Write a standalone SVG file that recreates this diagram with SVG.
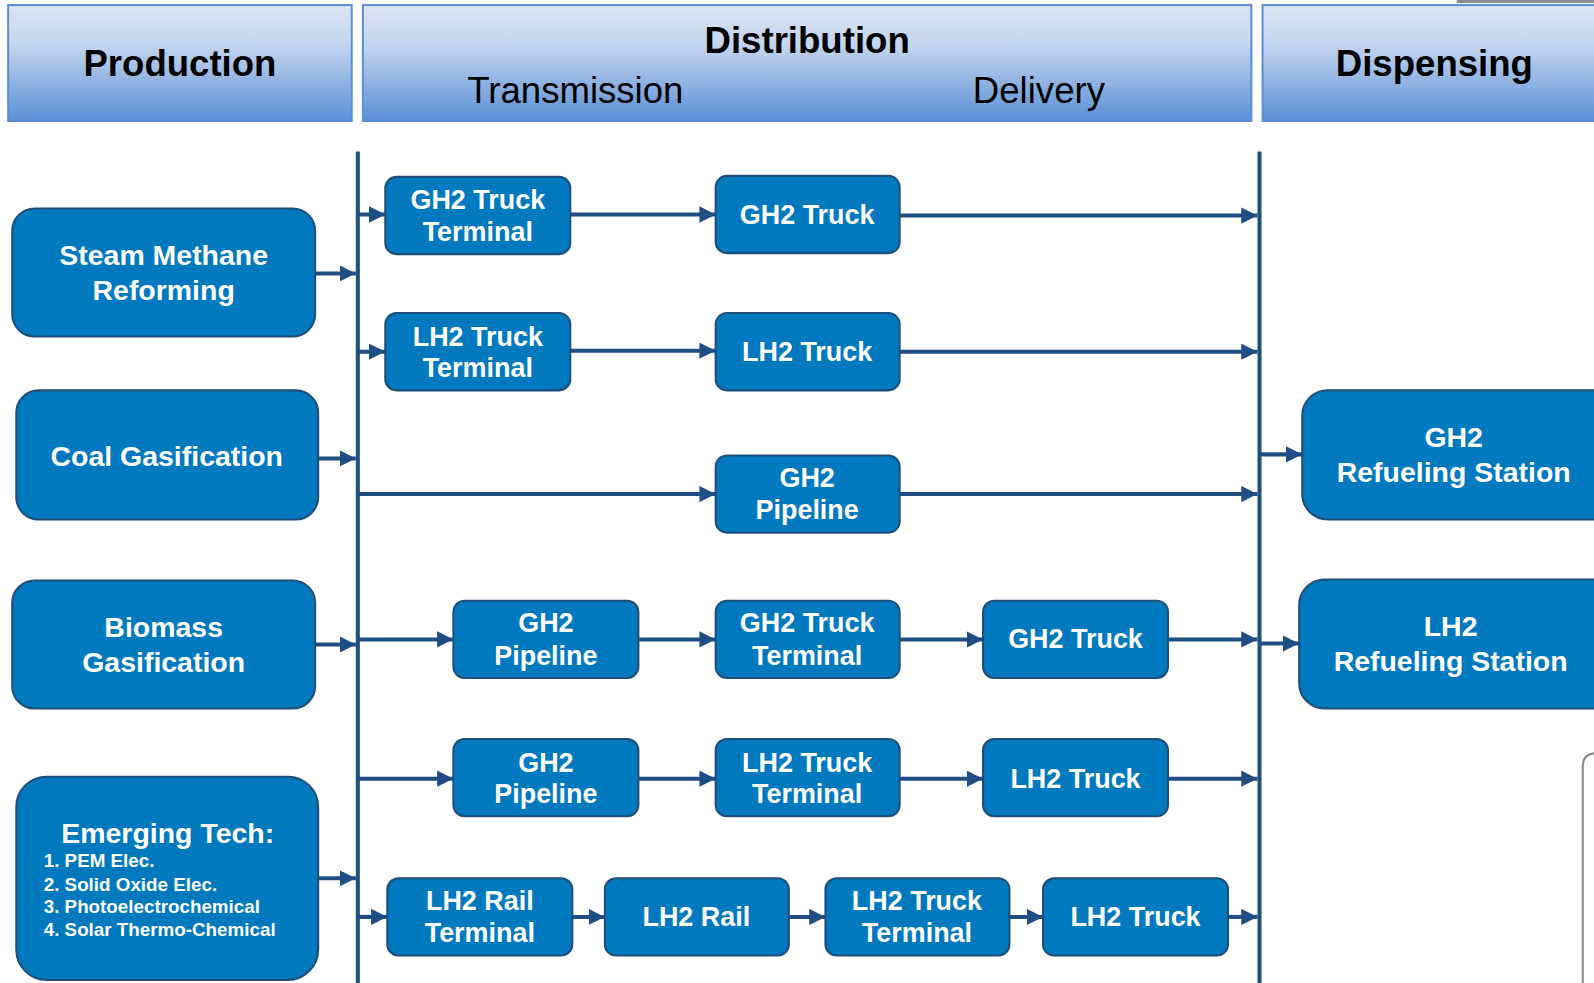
<svg xmlns="http://www.w3.org/2000/svg" width="1594" height="983" viewBox="0 0 1594 983">
<defs>
<linearGradient id="hg" x1="0" y1="0" x2="0" y2="1">
<stop offset="0" stop-color="#dce6f2"/>
<stop offset="0.35" stop-color="#c3d4ee"/>
<stop offset="1" stop-color="#5a8fd5"/>
</linearGradient>
<marker id="ah" markerWidth="4" markerHeight="4" refX="4" refY="2" orient="auto" markerUnits="strokeWidth">
<path d="M0,0 L4,2 L0,4 Z" fill="#1f4e85"/>
</marker>
<style>
.hdr{fill:url(#hg);stroke:#5b8fd6;stroke-width:2}
.ht{font-family:"Liberation Sans",Arial,sans-serif;font-size:36px;fill:#000;text-anchor:middle}
.b{font-weight:bold}
.n{fill:#0079be;stroke:#1f4e79;stroke-width:2}
.t{font-family:"Liberation Sans",Arial,sans-serif;font-weight:bold;fill:#fff;text-anchor:middle}
.s26{font-size:26.5px}
.s28{font-size:28px}
.s27{font-size:28px}
.li{font-size:18.5px;text-anchor:start}
.bus{stroke:#1f4e85;stroke-width:4;fill:none}
.c{stroke:#1f4e85;stroke-width:4;fill:none;marker-end:url(#ah)}
</style>
</defs>
<rect width="1594" height="983" fill="#fff"/>
<g transform="scale(1.01656)">
<rect x="1433" y="0" width="161" height="3" fill="#8c8c8c"/>
<g id="headers">
<g id="h-production"><rect class="hdr" x="8" y="5" width="338" height="114"/><text class="ht b" x="177" y="75">Production</text></g>
<g id="h-distribution"><rect class="hdr" x="357" y="5" width="874" height="114"/><text class="ht b" x="794" y="52">Distribution</text><text class="ht" x="566" y="101">Transmission</text><text class="ht" x="1022" y="101">Delivery</text></g>
<g id="h-dispensing"><rect class="hdr" x="1242" y="5" width="370" height="114"/><text class="ht b" x="1411" y="75">Dispensing</text></g>
</g>
<path d="M1600,741 L1570,741 Q1557,741 1557,754 L1557,990" fill="none" stroke="#8a8a8a" stroke-width="2"/>
<g id="connectors">
<line class="bus" x1="352" y1="149" x2="352" y2="983"/>
<line class="bus" x1="1239" y1="149" x2="1239" y2="983"/>
<line class="c" x1="310" y1="269" x2="350" y2="269"/>
<line class="c" x1="313" y1="451" x2="350" y2="451"/>
<line class="c" x1="310" y1="634" x2="350" y2="634"/>
<line class="c" x1="313" y1="864" x2="350" y2="864"/>
<line class="c" x1="352" y1="211" x2="379" y2="211"/>
<line class="c" x1="561" y1="211" x2="704" y2="211"/>
<line class="c" x1="885" y1="212" x2="1237" y2="212"/>
<line class="c" x1="352" y1="346" x2="379" y2="346"/>
<line class="c" x1="561" y1="345" x2="704" y2="345"/>
<line class="c" x1="885" y1="346" x2="1237" y2="346"/>
<line class="c" x1="352" y1="486" x2="704" y2="486"/>
<line class="c" x1="885" y1="486" x2="1237" y2="486"/>
<line class="c" x1="352" y1="629" x2="446" y2="629"/>
<line class="c" x1="628" y1="629" x2="704" y2="629"/>
<line class="c" x1="885" y1="629" x2="967" y2="629"/>
<line class="c" x1="1149" y1="629" x2="1237" y2="629"/>
<line class="c" x1="352" y1="766" x2="446" y2="766"/>
<line class="c" x1="628" y1="766" x2="704" y2="766"/>
<line class="c" x1="885" y1="766" x2="967" y2="766"/>
<line class="c" x1="1149" y1="766" x2="1237" y2="766"/>
<line class="c" x1="352" y1="902" x2="381" y2="902"/>
<line class="c" x1="563" y1="902" x2="595" y2="902"/>
<line class="c" x1="776" y1="902" x2="812" y2="902"/>
<line class="c" x1="993" y1="902" x2="1026" y2="902"/>
<line class="c" x1="1208" y1="902" x2="1237" y2="902"/>
<line class="c" x1="1239" y1="447" x2="1281" y2="447"/>
<line class="c" x1="1239" y1="633" x2="1278" y2="633"/>
</g>
<g id="smr"><rect class="n" x="12" y="205" width="298" height="126" rx="22"/><text class="t s28" x="161" y="261">Steam Methane</text><text class="t s28" x="161" y="295">Reforming</text></g>
<g id="coal"><rect class="n" x="16" y="384" width="297" height="127" rx="22"/><text class="t s28" x="164" y="458">Coal Gasification</text></g>
<g id="biomass"><rect class="n" x="12" y="571" width="298" height="126" rx="22"/><text class="t s28" x="161" y="627">Biomass</text><text class="t s28" x="161" y="661">Gasification</text></g>
<g id="emerging"><rect class="n" x="16" y="764" width="297" height="200" rx="30"/><text class="t s28" x="165" y="829">Emerging Tech:</text>
<text class="t li" x="43" y="853">1. PEM Elec.</text><text class="t li" x="43" y="876">2. Solid Oxide Elec.</text><text class="t li" x="43" y="898">3. Photoelectrochemical</text><text class="t li" x="43" y="921">4. Solar Thermo-Chemical</text></g>
<g id="gh2tt1"><rect class="n" x="379" y="174" width="182" height="76" rx="11"/><text class="t s26" x="470" y="206">GH2 Truck</text><text class="t s26" x="470" y="237">Terminal</text></g>
<g id="gh2t1"><rect class="n" x="704" y="173" width="181" height="76" rx="11"/><text class="t s26" x="794" y="220">GH2 Truck</text></g>
<g id="lh2tt1"><rect class="n" x="379" y="308" width="182" height="76" rx="11"/><text class="t s26" x="470" y="340">LH2 Truck</text><text class="t s26" x="470" y="371">Terminal</text></g>
<g id="lh2t1"><rect class="n" x="704" y="308" width="181" height="76" rx="11"/><text class="t s26" x="794" y="355">LH2 Truck</text></g>
<g id="gh2p1"><rect class="n" x="704" y="448" width="181" height="76" rx="11"/><text class="t s26" x="794" y="479">GH2</text><text class="t s26" x="794" y="511">Pipeline</text></g>
<g id="gh2p2"><rect class="n" x="446" y="591" width="182" height="76" rx="11"/><text class="t s26" x="537" y="622">GH2</text><text class="t s26" x="537" y="654">Pipeline</text></g>
<g id="gh2tt2"><rect class="n" x="704" y="591" width="181" height="76" rx="11"/><text class="t s26" x="794" y="622">GH2 Truck</text><text class="t s26" x="794" y="654">Terminal</text></g>
<g id="gh2t2"><rect class="n" x="967" y="591" width="182" height="76" rx="11"/><text class="t s26" x="1058" y="637">GH2 Truck</text></g>
<g id="gh2p3"><rect class="n" x="446" y="727" width="182" height="76" rx="11"/><text class="t s26" x="537" y="759">GH2</text><text class="t s26" x="537" y="790">Pipeline</text></g>
<g id="lh2tt2"><rect class="n" x="704" y="727" width="181" height="76" rx="11"/><text class="t s26" x="794" y="759">LH2 Truck</text><text class="t s26" x="794" y="790">Terminal</text></g>
<g id="lh2t2"><rect class="n" x="967" y="727" width="182" height="76" rx="11"/><text class="t s26" x="1058" y="775">LH2 Truck</text></g>
<g id="lh2rt"><rect class="n" x="381" y="864" width="182" height="76" rx="11"/><text class="t s26" x="472" y="895">LH2 Rail</text><text class="t s26" x="472" y="927">Terminal</text></g>
<g id="lh2r"><rect class="n" x="595" y="864" width="181" height="76" rx="11"/><text class="t s26" x="685" y="911">LH2 Rail</text></g>
<g id="lh2tt3"><rect class="n" x="812" y="864" width="181" height="76" rx="11"/><text class="t s26" x="902" y="895">LH2 Truck</text><text class="t s26" x="902" y="927">Terminal</text></g>
<g id="lh2t3"><rect class="n" x="1026" y="864" width="182" height="76" rx="11"/><text class="t s26" x="1117" y="911">LH2 Truck</text></g>
<g id="gh2rs"><rect class="n" x="1281" y="384" width="330" height="127" rx="25"/><text class="t s27" x="1430" y="440">GH2</text><text class="t s27" x="1430" y="474">Refueling Station</text></g>
<g id="lh2rs"><rect class="n" x="1278" y="570" width="333" height="127" rx="25"/><text class="t s27" x="1427" y="626">LH2</text><text class="t s27" x="1427" y="660">Refueling Station</text></g>
</g>
</svg>
